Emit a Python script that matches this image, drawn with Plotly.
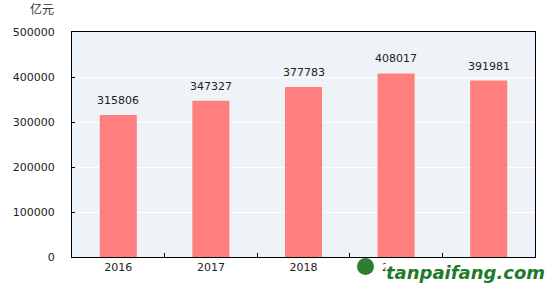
import plotly.graph_objects as go

years = ["2016", "2017", "2018", "2019", "2020"]
values = [315806, 347327, 377783, 408017, 391981]
y_ticks = [0, 100000, 200000, 300000, 400000, 500000]
unit_label = "亿元"
watermark = "tanpaifang.com"

fig = go.Figure()
fig.add_trace(go.Bar(
    x=years, y=values,
    marker=dict(color="#FF7F7F", line=dict(width=0)),
    width=0.4,
    hoverinfo="skip",
))

for i, v in enumerate(values):
    fig.add_annotation(x=i, y=v, text=str(v), showarrow=False,
                       yanchor="bottom", yshift=6,
                       font=dict(family="DejaVu Sans", size=11, color="#222"))

fig.add_annotation(xref="paper", yref="paper", x=-0.035, y=1.0, yshift=24,
                   text=unit_label, showarrow=False, xanchor="right", yanchor="middle",
                   font=dict(family="Noto Sans CJK SC", size=12, color="#333"))

fig.add_annotation(xref="paper", yref="paper", x=0.676, y=0, yshift=-15,
                   xanchor="left", yanchor="middle",
                   text="<b><i>" + watermark + "</i></b>", showarrow=False,
                   bgcolor="white", borderpad=0,
                   font=dict(family="DejaVu Sans", size=18, color="#1E7B2A"))

# watermark logo circle
fig.add_shape(type="circle", xref="paper", yref="paper",
              x0=(357 - 72) / 463, x1=(374 - 72) / 463,
              y0=(257 - 275) / 225, y1=(257 - 258) / 225,
              fillcolor="#2E7D32", line=dict(width=0))

fig.update_layout(
    width=554, height=286,
    margin=dict(l=72, r=19, t=32, b=29),
    paper_bgcolor="white",
    plot_bgcolor="#EEF3F7",
    showlegend=False,
    xaxis=dict(
        type="category",
        range=[-0.5, 4.5],
        showline=True, linecolor="#000", linewidth=1, mirror=True,
        ticks="inside", ticklen=4, tickcolor="#000", tickson="boundaries",
        showgrid=False,
        tickangle=0,
        tickfont=dict(family="DejaVu Sans", size=11, color="#222"),
    ),
    yaxis=dict(
        range=[0, 500000],
        tickvals=y_ticks,
        ticktext=[str(t) for t in y_ticks],
        showline=True, linecolor="#000", linewidth=1, mirror=True,
        ticks="inside", ticklen=3, tickcolor="#000",
        showgrid=True, gridcolor="white", gridwidth=1,
        zeroline=False,
        ticklabelstandoff=14,
        tickfont=dict(family="DejaVu Sans", size=11, color="#222"),
    ),
)

fig.write_html("out.html")
